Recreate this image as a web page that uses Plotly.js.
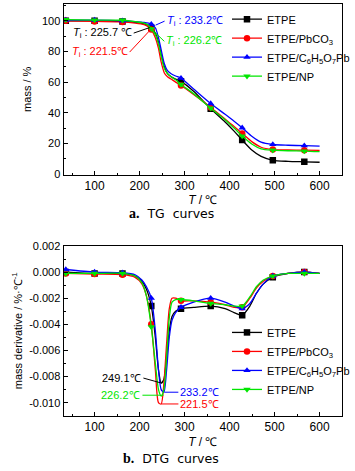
<!DOCTYPE html>
<html>
<head>
<meta charset="utf-8">
<script src="https://cdn.plot.ly/plotly-3.0.1.min.js"></script>
<style>html,body{margin:0;padding:0;background:#fff}#chart{width:355px;height:471px}</style>
</head>
<body>
<div id="chart"></div>
<script>
// ---------- DATA ----------
const seriesNames = ["ETPE", "ETPE/PbCO<sub>3</sub>", "ETPE/C<sub>6</sub>H<sub>5</sub>O<sub>7</sub>Pb", "ETPE/NP"];
const markerTemps = [36, 100, 162, 226, 292, 358, 428, 496, 566];

// TG curves (mass %)
const tgTemps = [36, 100, 162, 190, 210, 220, 226, 235, 242, 248, 255, 262, 270, 280, 292, 320, 358, 390, 410, 428, 450, 470, 496, 530, 566, 600];
const tgETPE  = [100.0, 100.0, 99.6, 99.0, 98.0, 97.0, 95.5, 92.0, 86.0, 78.0, 70.0, 65.5, 63.5, 62.0, 60.5, 54.0, 42.6, 34.0, 28.0, 22.2, 15.5, 11.5, 9.0, 8.3, 8.0, 7.7];
const tgPbCO3 = [100.0, 99.6, 99.3, 98.5, 97.5, 96.0, 94.3, 89.0, 82.0, 73.0, 66.0, 63.5, 62.0, 60.0, 57.8, 52.0, 43.5, 36.0, 31.0, 26.5, 21.0, 17.5, 16.0, 15.7, 15.6, 15.4];
const tgCit   = [100.5, 100.5, 100.0, 99.5, 99.0, 98.5, 97.8, 95.5, 89.0, 81.0, 72.0, 67.5, 65.5, 64.0, 62.6, 55.5, 46.0, 39.0, 34.5, 30.2, 24.5, 20.8, 19.3, 18.8, 18.5, 18.2];
const tgNP    = [100.8, 100.5, 100.4, 99.5, 98.5, 97.0, 94.8, 91.0, 85.0, 77.0, 69.0, 65.5, 63.5, 61.5, 58.5, 52.5, 43.0, 35.5, 30.0, 24.8, 19.5, 16.5, 15.6, 15.2, 15.0, 14.6];

// DTG curves (mass derivative %/°C)
const dtgTemps = [36, 100, 162, 190, 205, 215, 226, 235, 242, 248, 254, 260, 266, 272, 280, 292, 320, 358, 390, 410, 428, 445, 460, 475, 496, 530, 566, 600];
const dtgETPE  = [0.0000, -0.0001, -0.0001, -0.0003, -0.0007, -0.0013, -0.0026, -0.0050, -0.0075, -0.0085, -0.0082, -0.0065, -0.0045, -0.0034, -0.0030, -0.0028, -0.0027, -0.0026, -0.0028, -0.0031, -0.0033, -0.0026, -0.0016, -0.0009, -0.0004, -0.0001, 0.0000, -0.0001];
const dtgPbCO3 = [-0.0001, -0.00015, -0.0002, -0.0004, -0.0009, -0.0018, -0.0040, -0.0075, -0.0100, -0.0101, -0.0085, -0.0055, -0.0028, -0.0020, -0.0020, -0.0022, -0.0022, -0.0023, -0.0025, -0.0027, -0.0027, -0.0020, -0.0012, -0.0007, -0.0003, -0.0001, 0.0000, -0.0001];
const dtgCit   = [0.0002, 0.0000, -0.00005, -0.0002, -0.0006, -0.0011, -0.0020, -0.0045, -0.0075, -0.0090, -0.0092, -0.0075, -0.0050, -0.0037, -0.0031, -0.0027, -0.0023, -0.0020, -0.0023, -0.0026, -0.0028, -0.0024, -0.0016, -0.0009, -0.0003, -0.0001, 0.0000, -0.0001];
const dtgNP    = [-0.0001, -0.0001, -0.0001, -0.0003, -0.0008, -0.0018, -0.0042, -0.0070, -0.0090, -0.0095, -0.0090, -0.0065, -0.0035, -0.0023, -0.0021, -0.0021, -0.0022, -0.0024, -0.0025, -0.0026, -0.0026, -0.0019, -0.0011, -0.0006, -0.0003, -0.0001, -0.0001, -0.0001];

const dtgTickVals = [0.002, 0.000, -0.002, -0.004, -0.006, -0.008, -0.010];
const dtgTickText = ["0.002", "0.000", "-0.002", "-0.004", "-0.006", "-0.008", "-0.010"];

// ---------- STYLE ----------
const colors  = ["#000000", "#ff0000", "#0000ff", "#00e600"];
const symbols = ["square", "circle", "triangle-up", "triangle-down"];
const FONT = "Liberation Sans, Arial, sans-serif";

const tgSets  = [tgETPE, tgPbCO3, tgCit, tgNP];
const dtgSets = [dtgETPE, dtgPbCO3, dtgCit, dtgNP];

function pick(temps, vals) {
  return markerTemps.map(t => vals[temps.indexOf(t)]);
}

const traces = [];
for (let i = 0; i < 4; i++) {
  traces.push({x: tgTemps, y: tgSets[i], xaxis: "x", yaxis: "y", mode: "lines",
    line: {color: colors[i], width: 1.3, shape: "spline", smoothing: 0.7}, showlegend: false, hoverinfo: "skip"});
  traces.push({x: markerTemps, y: pick(tgTemps, tgSets[i]), xaxis: "x", yaxis: "y", mode: "markers",
    marker: {color: colors[i], symbol: symbols[i], size: 6.5}, showlegend: false, hoverinfo: "skip"});
  traces.push({x: dtgTemps, y: dtgSets[i], xaxis: "x2", yaxis: "y2", mode: "lines",
    line: {color: colors[i], width: 1.3, shape: "spline", smoothing: 0.7}, showlegend: false, hoverinfo: "skip"});
  traces.push({x: markerTemps, y: pick(dtgTemps, dtgSets[i]), xaxis: "x2", yaxis: "y2", mode: "markers",
    marker: {color: colors[i], symbol: symbols[i], size: 6.5}, showlegend: false, hoverinfo: "skip"});
}
// legend entries (no data drawn)
for (let i = 0; i < 4; i++) {
  traces.push({x: [null], y: [null], xaxis: "x", yaxis: "y", mode: "lines+markers", name: seriesNames[i],
    line: {color: colors[i], width: 1.3}, marker: {color: colors[i], symbol: symbols[i], size: 6.5},
    legend: "legend", legendgroup: "a" + i});
  traces.push({x: [null], y: [null], xaxis: "x2", yaxis: "y2", mode: "lines+markers", name: seriesNames[i],
    line: {color: colors[i], width: 1.3}, marker: {color: colors[i], symbol: symbols[i], size: 6.5},
    legend: "legend2", legendgroup: "b" + i});
}

const axisCommon = {
  showline: true, mirror: true, linecolor: "#000", linewidth: 1,
  ticks: "inside", ticklen: 4, tickwidth: 1, tickcolor: "#000",
  showgrid: false, zeroline: false,
  tickfont: {family: FONT, size: 11, color: "#000"}
};

function ann(xref, yref, x, y, ax, ay, xanchor, text, color) {
  return {xref: xref, yref: yref, x: x, y: y, ax: ax, ay: ay, axref: "pixel", ayref: "pixel",
    showarrow: true, arrowhead: 0, arrowwidth: 1, arrowcolor: color, standoff: 0,
    xanchor: xanchor, yanchor: "middle", text: text,
    font: {family: FONT, size: 11, color: color}};
}

const layout = {
  width: 355, height: 471,
  margin: {l: 0, r: 0, t: 0, b: 0},
  paper_bgcolor: "#fff", plot_bgcolor: "#fff",
  font: {family: FONT, size: 11, color: "#000"},
  xaxis: Object.assign({}, axisCommon, {
    domain: [0.1831, 0.9859], range: [31, 650], anchor: "y",
    tick0: 0, dtick: 100, minor: {ticks: "inside", ticklen: 2, dtick: 50, tick0: 0, tickcolor: "#000"},
    tickfont: {family: FONT, size: 12, color: "#000"},
    title: {text: "<i>T</i> / ℃", standoff: 0, font: {family: FONT, size: 12}}
  }),
  yaxis: Object.assign({}, axisCommon, {
    domain: [0.6295, 0.9915], range: [-0.3, 111], anchor: "x",
    tick0: 0, dtick: 20, minor: {ticks: "inside", ticklen: 2, dtick: 10, tick0: 0, tickcolor: "#000"},
    title: {text: "mass / %", standoff: 8, font: {family: FONT, size: 11}}
  }),
  xaxis2: Object.assign({}, axisCommon, {
    domain: [0.1831, 0.9859], range: [31, 650], anchor: "y2",
    tick0: 0, dtick: 100, minor: {ticks: "inside", ticklen: 2, dtick: 50, tick0: 0, tickcolor: "#000"},
    tickfont: {family: FONT, size: 12, color: "#000"},
    title: {text: "<i>T</i> / ℃", standoff: 4, font: {family: FONT, size: 12}}
  }),
  yaxis2: Object.assign({}, axisCommon, {
    domain: [0.1174, 0.4777], range: [-0.0110, 0.002], anchor: "x2",
    tickmode: "array", tickvals: dtgTickVals, ticktext: dtgTickText,
    minor: {ticks: "inside", ticklen: 2, dtick: 0.001, tick0: 0, tickcolor: "#000"},
    title: {text: "mass derivative / %·℃<sup>-1</sup>", standoff: 4, font: {family: FONT, size: 11}}
  }),
  legend: {x: 0.655, xanchor: "left", y: 0.99, yanchor: "top", bgcolor: "rgba(0,0,0,0)",
    font: {family: FONT, size: 11, color: "#000"}, tracegroupgap: 0, itemwidth: 30, traceorder: "normal"},
  legend2: {x: 0.655, xanchor: "left", y: 0.325, yanchor: "top", bgcolor: "rgba(0,0,0,0)",
    font: {family: FONT, size: 11, color: "#000"}, tracegroupgap: 4, itemwidth: 30, traceorder: "normal"},
  annotations: [
    ann("x", "y", 235.5, 97.2, 9, -4, "left", "<i>T</i><sub>i</sub> : 233.2℃", "#0000ff"),
    ann("x", "y", 222.5, 95.6, -16, 5.5, "right", "<i>T</i><sub>i</sub> : 225.7 ℃", "#000000"),
    ann("x", "y", 224.5, 94.3, -21, 22.5, "right", "<i>T</i><sub>i</sub> : 221.5℃", "#ff0000"),
    ann("x", "y", 226, 94.8, 13, 12.5, "left", "<i>T</i><sub>i</sub> : 226.2℃", "#00e600"),
    ann("x2", "y2", 248.5, -0.0085, -18, -5, "right", "249.1℃", "#000000"),
    ann("x2", "y2", 253, -0.00943, -21, 0, "right", "226.2℃", "#00e600"),
    ann("x2", "y2", 255, -0.0092, 14, 0, "left", "233.2℃", "#0000ff"),
    ann("x2", "y2", 248.5, -0.0101, 17, 0, "left", "221.5℃", "#ff0000"),
    {xref: "paper", yref: "paper", x: 0.493, y: 1 - 213/471, showarrow: false, xanchor: "center", yanchor: "middle",
     text: "<span style=\"font-family:Liberation Serif;font-size:14px\"><b>a.</b></span>  TG  curves", font: {family: "DejaVu Sans", size: 12.5, color: "#000"}},
    {xref: "paper", yref: "paper", x: 0.493, y: 1 - 458/471, showarrow: false, xanchor: "center", yanchor: "middle",
     text: "<span style=\"font-family:Liberation Serif;font-size:14px\"><b>b.</b></span>  DTG  curves", font: {family: "DejaVu Sans", size: 12.5, color: "#000"}}
  ]
};

Plotly.newPlot("chart", traces, layout, {displayModeBar: false, staticPlot: true});
</script>
</body>
</html>
